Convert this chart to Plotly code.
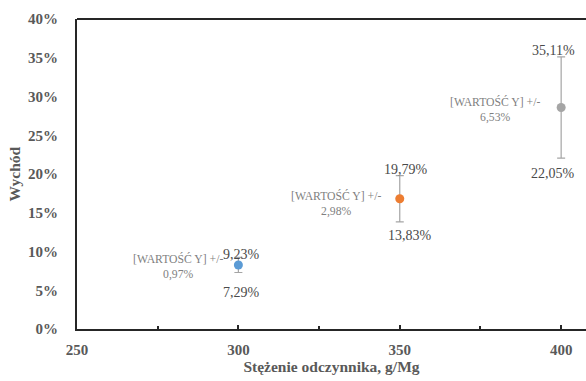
import plotly.graph_objects as go

# ---- data ----
x_vals = [300, 350, 400]
y_mean = [8.26, 16.81, 28.58]          # percent
y_err = [0.97, 2.98, 6.53]             # percent
y_max = [9.23, 19.79, 35.11]
y_min = [7.29, 13.83, 22.05]
err_text = ["0,97%", "2,98%", "6,53%"]
max_text = ["9,23%", "19,79%", "35,11%"]
min_text = ["7,29%", "13,83%", "22,05%"]
colors = ["#5b9bd5", "#ed7d31", "#a5a5a5"]
y_ticks = [0, 5, 10, 15, 20, 25, 30, 35, 40]
y_tick_labels = ["0%", "5%", "10%", "15%", "20%", "25%", "30%", "35%", "40%"]
x_ticks = [250, 300, 350, 400]

# ---- label offsets (style) ----
lab_dx = [-60, -64, -66]
lab_dy = [-2, -5, -2]
max_dx = [3, 6, -8]
max_dy = [3, 6, 6]
min_dx = [3, 10, -8]
min_dy = [-20, -14, -15]

SERIF = "Liberation Serif, Times New Roman, serif"

fig = go.Figure()
for i in range(len(x_vals)):
    fig.add_trace(go.Scatter(
        x=[x_vals[i]], y=[y_mean[i]], mode="markers",
        marker=dict(color=colors[i], size=9),
        error_y=dict(type="data", array=[y_err[i]], color="#a5a5a5",
                     thickness=1.2, width=4),
        showlegend=False, hoverinfo="skip"))

annotations = []
for i in range(len(x_vals)):
    annotations.append(dict(
        x=x_vals[i], y=y_mean[i], xref="x", yref="y",
        text="[WARTOŚĆ Y] +/-<br>" + err_text[i], showarrow=False,
        xanchor="center", yanchor="middle", align="center",
        xshift=lab_dx[i], yshift=lab_dy[i],
        font=dict(family=SERIF, size=11.7, color="#7f7f7f")))
    annotations.append(dict(
        x=x_vals[i], y=y_max[i], xref="x", yref="y",
        text=max_text[i], showarrow=False, xanchor="center", yanchor="middle",
        xshift=max_dx[i], yshift=max_dy[i],
        font=dict(family=SERIF, size=14, color="#4a4a4a")))
    annotations.append(dict(
        x=x_vals[i], y=y_min[i], xref="x", yref="y",
        text=min_text[i], showarrow=False, xanchor="center", yanchor="middle",
        xshift=min_dx[i], yshift=min_dy[i],
        font=dict(family=SERIF, size=14, color="#4a4a4a")))

annotations.append(dict(
    x=-0.123, y=0.5, xref="paper", yref="paper", text="<b>Wychód</b>",
    textangle=-90, showarrow=False, xanchor="center", yanchor="middle",
    font=dict(family=SERIF, size=15.5, color="#595959")))

fig.update_layout(
    width=586, height=381,
    margin=dict(l=77, r=0, t=19, b=52),
    paper_bgcolor="white", plot_bgcolor="white",
    annotations=annotations,
    shapes=[dict(type="line", xref="paper", yref="paper", x0=0, x1=1, y0=1, y1=1,
                 line=dict(color="#262626", width=2))],
    xaxis=dict(
        range=[250, 407.7], tickvals=x_ticks, ticktext=[str(v) for v in x_ticks],
        showgrid=False, zeroline=False, showline=True, linecolor="#262626", linewidth=2,
        ticks="inside", ticklen=4, tickwidth=2, tickcolor="#262626",
        minor=dict(dtick=25, tick0=250, ticks="inside", ticklen=3, tickwidth=2,
                   tickcolor="#262626", showgrid=False),
        tickfont=dict(family=SERIF, size=15, color="#595959", weight="bold"),
        ticklabelstandoff=6,
        title=dict(text="<b>Stężenie odczynnika, g/Mg</b>", standoff=3,
                   font=dict(family=SERIF, size=15.5, color="#595959")),
    ),
    yaxis=dict(
        range=[0, 40], tickvals=y_ticks, ticktext=y_tick_labels,
        showgrid=False, zeroline=False, showline=True, linecolor="#262626", linewidth=2,
        ticks="", ticklabelstandoff=14,
        tickfont=dict(family=SERIF, size=15, color="#595959", weight="bold"),
    ),
)

fig.write_html("out.html", config={"displayModeBar": False},
               post_script="document.body.style.margin='0';document.body.style.overflow='hidden';")
